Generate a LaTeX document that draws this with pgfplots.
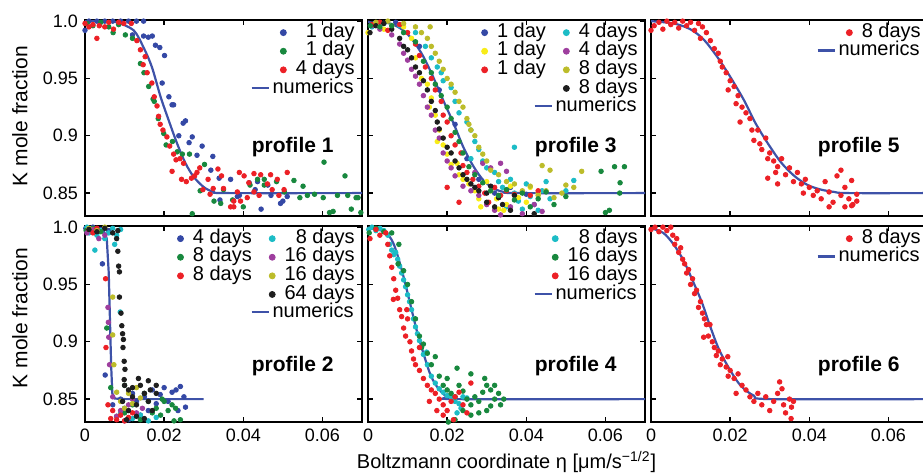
\documentclass[border=0pt]{standalone}
\usepackage{fontspec}
\setmainfont{Liberation Sans}
\usepackage{pgfplots}
\pgfplotsset{compat=1.18}
\usepgfplotslibrary{groupplots}
\usetikzlibrary{calc}

\definecolor{mblue}{RGB}{52,72,165}
\definecolor{mgreen}{RGB}{24,136,62}
\definecolor{mred}{RGB}{236,32,38}
\definecolor{mcyan}{RGB}{28,188,198}
\definecolor{mmag}{RGB}{158,62,158}
\definecolor{myel}{RGB}{248,236,24}
\definecolor{molive}{RGB}{188,188,42}
\definecolor{mblack}{RGB}{30,30,30}
\definecolor{numblue}{RGB}{62,82,168}

\newcommand{\numentry}{\llap{\textcolor{numblue}{\rule[2.2pt]{8.5pt}{1.1pt}}\hspace{2pt}numerics}}

\pgfplotsset{
  panel/.style={
    scale only axis, width=138.5pt, height=98pt,
    xmin=0, xmax=0.07, ymin=0.83, ymax=1.001,
    xtick={0,0.02,0.04,0.06}, ytick={0.85,0.9,0.95,1.0},
    xticklabels={}, yticklabels={},
    scaled x ticks=false, scaled y ticks=false,
    tick label style={font=\fontsize{9}{10}\selectfont},
    axis line style={line width=0.9pt},
    major tick style={line width=0.7pt, black},
    major tick length=2.5pt,
    legend cell align=right,
    legend style={draw=none, fill=none, inner sep=0pt,
      at={(axis description cs:0.975,0.985)}, anchor=north east,
      font=\fontsize{10}{11}\selectfont,
      nodes={inner sep=0pt, text height=7pt, text depth=2.3pt},
      row sep=0pt, column sep=4.5pt,
      /tikz/every even column/.append style={column sep=8.5pt}},
  },
  xlab/.style={xticklabels={0,0.02,0.04,0.06}},
  ylab/.style={yticklabels={0.85,0.9,0.95,1.0},
    ylabel={K mole fraction},
    ylabel style={at={(axis description cs:-0.2347,#1)}, anchor=center,
      font=\fontsize{10.5}{12}\selectfont}},
  dots/.style={only marks, mark=*, mark size=1.15pt, color=#1,
    mark options={draw=none, fill=#1},
    legend image code/.code={\fill[#1] (1.5pt,0pt) circle (1.5pt);}},
  num/.style={no marks, numblue, line width=1.1pt, forget plot},
}

\newcommand{\proflabel}[2]{\node[font=\fontsize{10.5}{12}\selectfont\bfseries] at (rel axis cs:0.75,#1) {#2};}

\begin{document}
\begin{tikzpicture}
\begin{groupplot}[
  group style={group size=3 by 2, horizontal sep=3pt, vertical sep=5pt},
  panel,
]

% ---------- profile 1 ----------
\nextgroupplot[ylab=0.51]
\coordinate (TL) at (rel axis cs:0,1);
\addplot[dots=mblue] coordinates {
(0,0.992)(0.001,1.0)(0.003,1.0)(0.005,1.0)(0.007,1.0)(0.009,1.0)(0.011,1.0)(0.013,1.0)(0.0148,1.0)
(0.012,0.988)(0.0148,0.987)(0.016,0.986)(0.017,0.987)(0.0178,0.979)(0.0189,0.977)(0.0201,0.970)
(0.0195,0.946)(0.0212,0.934)(0.022,0.927)(0.0224,0.927)(0.0254,0.913)(0.0248,0.911)(0.0237,0.900)
(0.0271,0.899)(0.0263,0.894)(0.0296,0.891)(0.0283,0.883)(0.0323,0.882)(0.0318,0.870)(0.0339,0.863)
(0.0368,0.862)(0.0341,0.844)(0.0385,0.847)(0.0415,0.859)(0.0436,0.860)(0.0445,0.836)(0.0462,0.857)
(0.0494,0.841)(0.0500,0.843)(0.0511,0.847)(0.0470,0.848)(0.0430,0.853)(0.0390,0.848)};
\addlegendentry{1 day}
\addplot[dots=mgreen] coordinates {
(0.0005,0.998)(0.002,0.996)(0.004,0.999)(0.006,0.995)(0.0071,0.990)(0.0085,0.997)(0.0102,0.988)
(0.012,0.985)(0.014,0.963)(0.0149,0.955)(0.0161,0.943)(0.0172,0.932)(0.0175,0.930)(0.0185,0.915)
(0.0199,0.902)(0.0205,0.892)(0.0221,0.895)(0.0233,0.886)(0.0246,0.884)(0.0264,0.884)(0.0271,0.832)
(0.0291,0.852)(0.0302,0.875)(0.0326,0.843)(0.0343,0.841)(0.0350,0.853)(0.0373,0.844)(0.0400,0.838)
(0.0417,0.857)(0.0436,0.862)(0.0453,0.862)(0.0453,0.857)(0.0484,0.860)(0.0504,0.851)(0.0528,0.861)
(0.0551,0.856)(0.0543,0.846)(0.0562,0.848)(0.0580,0.849)(0.0604,0.877)(0.0602,0.846)(0.0618,0.833)
(0.0627,0.834)(0.0638,0.848)(0.0657,0.865)(0.0664,0.848)(0.0673,0.836)(0.0685,0.846)(0.0690,0.846)
(0.0697,0.833)};
\addlegendentry{1 day}
\addplot[dots=mred] coordinates {
(0,0.998)(0.001,0.995)(0.002,0.997)(0.003,0.985)(0.0036,0.996)(0.005,0.995)(0.006,0.999)(0.0072,0.993)
(0.0085,0.999)(0.0098,0.998)(0.0117,0.998)(0.0131,0.983)(0.014,0.975)(0.0147,0.962)(0.0152,0.969)
(0.0157,0.955)(0.0169,0.946)(0.0175,0.934)(0.0182,0.926)(0.0186,0.917)(0.0190,0.910)(0.0197,0.905)
(0.0207,0.899)(0.0214,0.891)(0.0224,0.884)(0.0230,0.879)(0.0220,0.869)(0.0240,0.880)(0.0249,0.876)
(0.0244,0.862)(0.0256,0.860)(0.0269,0.863)(0.0277,0.865)(0.0283,0.868)(0.0290,0.872)(0.0298,0.853)
(0.0311,0.862)(0.0316,0.849)(0.0324,0.854)(0.0336,0.871)(0.0345,0.865)(0.0350,0.854)(0.0368,0.838)
(0.0376,0.843)(0.0385,0.851)(0.0390,0.868)(0.0402,0.865)(0.0414,0.859)(0.0427,0.867)(0.0444,0.866)
(0.0461,0.858)(0.0469,0.866)(0.0486,0.862)(0.0503,0.853)(0.0511,0.868)(0.0490,0.848)(0.0473,0.853)
(0.0440,0.848)(0.0427,0.851)(0.0410,0.846)(0.0376,0.838)(0.0393,0.843)};
\addlegendentry{4 days}
\addlegendimage{empty legend}
\addlegendentry{\numentry}
\addplot[num, smooth] coordinates {
(0,1.0)(0.0050,1.0)(0.0080,0.999)(0.0123,0.992)(0.0148,0.977)(0.0169,0.960)(0.0191,0.934)
(0.0212,0.913)(0.0233,0.893)(0.0254,0.876)(0.0275,0.864)(0.0301,0.855)(0.0326,0.851)(0.036,0.850)(0.07,0.850)};
\proflabel{0.354}{profile 1}

% ---------- profile 3 ----------
\nextgroupplot[legend columns=2]
\addplot[dots=mblue] coordinates {
(0.001,0.997)(0.007,0.999)(0.013,0.978)(0.018,0.940)(0.022,0.910)(0.025,0.880)(0.028,0.862)
(0.032,0.850)(0.036,0.855)(0.040,0.849)};
\addlegendentry{1 day}
\addplot[dots=mcyan] coordinates {
(0.001,0.995)(0.004,0.998)(0.008,0.996)(0.012,0.990)(0.0145,0.978)(0.016,0.968)(0.0175,0.960)
(0.0185,0.955)(0.019,0.948)(0.021,0.942)(0.022,0.930)(0.023,0.920)(0.025,0.912)(0.026,0.905)
(0.027,0.895)(0.028,0.888)(0.029,0.878)(0.030,0.872)(0.032,0.868)(0.033,0.860)(0.034,0.855)
(0.036,0.862)(0.037,0.850)(0.038,0.843)(0.040,0.858)(0.041,0.847)(0.042,0.840)(0.044,0.852)
(0.045,0.860)(0.046,0.845)(0.043,0.835)(0.039,0.836)(0.035,0.838)(0.026,0.880)(0.037,0.890)
(0.052,0.861)(0.050,0.852)};
\addlegendentry{4 days}
\addplot[dots=myel] coordinates {
(0,0.990)(0.002,0.998)(0.004,0.993)(0.006,0.996)(0.009,0.995)(0.011,0.985)(0.012,0.968)(0.0135,0.950)
(0.015,0.945)(0.016,0.933)(0.0155,0.925)(0.017,0.918)(0.018,0.905)(0.0175,0.895)(0.019,0.892)
(0.020,0.884)(0.021,0.875)(0.0225,0.876)(0.023,0.866)(0.024,0.862)(0.0255,0.858)(0.027,0.852)
(0.028,0.845)(0.0285,0.838)(0.030,0.860)(0.031,0.852)(0.0325,0.845)(0.033,0.836)(0.035,0.840)
(0.036,0.856)(0.038,0.846)(0.040,0.842)(0.041,0.855)(0.043,0.850)(0.0343,0.835)};
\addlegendentry{1 day}
\addplot[dots=mmag] coordinates {
(0.001,0.996)(0.003,0.993)(0.006,0.988)(0.008,0.980)(0.009,0.972)(0.010,0.966)(0.011,0.958)
(0.012,0.952)(0.013,0.945)(0.014,0.935)(0.015,0.925)(0.016,0.918)(0.017,0.905)(0.018,0.898)
(0.019,0.885)(0.020,0.878)(0.021,0.872)(0.022,0.865)(0.024,0.856)(0.026,0.852)(0.028,0.848)
(0.030,0.840)(0.032,0.835)(0.0335,0.831)(0.036,0.838)(0.039,0.832)(0.042,0.840)(0.044,0.834)
(0.027,0.868)(0.029,0.876)(0.031,0.872)(0.0335,0.876)(0.035,0.869)};
\addlegendentry{4 days}
\addplot[dots=mred] coordinates {
(0.001,0.997)(0.003,0.999)(0.005,0.992)(0.008,0.997)(0.010,0.990)(0.012,0.980)(0.013,0.970)
(0.0145,0.960)(0.016,0.950)(0.017,0.940)(0.0185,0.930)(0.019,0.918)(0.020,0.912)(0.021,0.900)
(0.022,0.892)(0.0235,0.885)(0.024,0.874)(0.025,0.868)(0.0265,0.862)(0.028,0.856)(0.0295,0.850)
(0.0305,0.842)(0.032,0.855)(0.0335,0.848)(0.035,0.852)(0.037,0.849)(0.039,0.851)(0.041,0.848)
(0.043,0.852)(0.020,0.855)(0.023,0.842)};
\addlegendentry{1 day}
\addplot[dots=molive] coordinates {
(0.002,0.999)(0.005,1.0)(0.009,0.998)(0.012,0.995)(0.0135,0.990)(0.015,0.985)(0.016,0.978)
(0.017,0.972)(0.018,0.965)(0.019,0.958)(0.020,0.950)(0.021,0.945)(0.022,0.938)(0.023,0.930)
(0.024,0.925)(0.025,0.915)(0.0255,0.910)(0.026,0.905)(0.027,0.900)(0.028,0.890)(0.029,0.884)
(0.030,0.878)(0.031,0.870)(0.033,0.866)(0.035,0.860)(0.037,0.858)(0.039,0.852)(0.041,0.856)
(0.043,0.848)(0.045,0.852)(0.047,0.846)(0.049,0.850)(0.050,0.857)(0.044,0.874)(0.046,0.870)
(0.054,0.869)(0.052,0.855)(0.0157,0.995)};
\addlegendentry{8 days}
\addlegendimage{empty legend}
\addlegendentry{}
\addplot[dots=mblack] coordinates {
(0.0005,0.990)(0.002,0.996)(0.004,0.998)(0.006,0.993)(0.008,0.985)(0.009,0.978)(0.010,0.975)
(0.011,0.968)(0.012,0.960)(0.013,0.955)(0.014,0.948)(0.015,0.940)(0.016,0.930)(0.017,0.922)
(0.0175,0.912)(0.018,0.906)(0.019,0.898)(0.020,0.890)(0.021,0.885)(0.022,0.878)(0.023,0.872)
(0.024,0.866)(0.025,0.862)(0.026,0.858)(0.027,0.855)(0.028,0.852)(0.030,0.850)(0.031,0.856)
(0.033,0.846)(0.034,0.840)(0.036,0.835)(0.037,0.848)(0.030,0.842)(0.032,0.838)(0.042,0.832)};
\addlegendentry{8 days}
\addlegendimage{empty legend}
\addlegendentry{}
\addlegendimage{empty legend}
\addlegendentry{\numentry}
\addplot[dots=mgreen, forget plot] coordinates {
(0.0006,0.996)(0.003,0.995)(0.006,0.996)(0.009,0.990)(0.012,0.982)(0.014,0.965)(0.016,0.955)
(0.017,0.945)(0.0185,0.935)(0.020,0.925)(0.021,0.915)(0.022,0.903)(0.023,0.895)(0.024,0.885)
(0.0255,0.873)(0.027,0.866)(0.029,0.859)(0.031,0.852)(0.033,0.848)(0.035,0.853)(0.037,0.844)
(0.039,0.850)(0.041,0.838)(0.043,0.845)(0.045,0.851)(0.047,0.840)(0.050,0.847)(0.0589,0.869)
(0.0623,0.873)(0.0648,0.873)(0.0637,0.859)(0.0600,0.833)(0.0610,0.835)(0.0636,0.850)};
\addplot[num, smooth] coordinates {
(0,1.0)(0.0004,0.999)(0.0055,0.998)(0.0089,0.992)(0.0114,0.983)(0.014,0.969)(0.0165,0.951)
(0.019,0.931)(0.0216,0.911)(0.0241,0.890)(0.0267,0.873)(0.0292,0.861)(0.0318,0.854)(0.0343,0.851)
(0.0377,0.850)(0.07,0.850)};
\proflabel{0.354}{profile 3}

% ---------- profile 5 ----------
\nextgroupplot[]
\addplot[dots=mred] coordinates {
(0,0.992)(0.0008,0.996)(0.002,0.999)(0.003,0.993)(0.004,1.0)(0.005,0.997)(0.006,0.999)(0.007,0.994)
(0.008,1.0)(0.009,0.996)(0.010,0.999)(0.011,0.992)(0.012,0.998)(0.013,0.995)(0.014,0.990)
(0.0125,0.985)(0.015,0.983)(0.016,0.976)(0.017,0.972)(0.0175,0.965)(0.018,0.960)(0.019,0.955)
(0.020,0.948)(0.0195,0.940)(0.021,0.943)(0.022,0.935)(0.0215,0.928)(0.023,0.925)(0.024,0.920)
(0.0225,0.912)(0.025,0.915)(0.0255,0.905)(0.026,0.896)(0.027,0.905)(0.0275,0.893)(0.028,0.888)
(0.029,0.898)(0.0295,0.880)(0.030,0.885)(0.031,0.878)(0.0315,0.868)(0.032,0.873)(0.033,0.880)
(0.034,0.866)(0.035,0.872)(0.036,0.860)(0.037,0.868)(0.038,0.858)(0.0385,0.850)(0.039,0.862)
(0.040,0.855)(0.041,0.848)(0.042,0.852)(0.043,0.845)(0.044,0.860)(0.045,0.851)(0.046,0.842)
(0.047,0.865)(0.048,0.870)(0.048,0.848)(0.049,0.855)(0.050,0.845)(0.051,0.840)(0.052,0.849)
(0.049,0.838)(0.045,0.838)(0.0295,0.863)(0.032,0.858)(0.0507,0.861)(0.052,0.843)(0.0507,0.839)};
\addlegendentry{8 days}
\addlegendimage{empty legend}
\addlegendentry{\numentry}
\addplot[num, smooth] coordinates {
(0,1.0)(0.0057,0.998)(0.0099,0.993)(0.0133,0.984)(0.0167,0.969)(0.0201,0.951)(0.0235,0.931)
(0.0264,0.911)(0.0294,0.894)(0.0328,0.877)(0.0362,0.865)(0.0396,0.857)(0.043,0.853)(0.0463,0.851)
(0.0497,0.850)(0.07,0.850)};
\proflabel{0.354}{profile 5}

% ---------- profile 2 ----------
\nextgroupplot[ylab=0.53, xlab, legend columns=2]
\addplot[dots=mblue] coordinates {
(0.0002,0.999)(0.002,1.0)(0.004,0.998)(0.006,0.997)(0.0044,0.968)(0.0051,0.871)(0.007,0.845)
(0.009,0.850)(0.010,0.842)(0.012,0.855)(0.013,0.848)(0.015,0.852)(0.016,0.840)(0.017,0.858)
(0.018,0.846)(0.019,0.854)(0.020,0.860)(0.021,0.848)(0.022,0.856)(0.023,0.858)(0.0241,0.861)
(0.025,0.852)(0.0254,0.843)(0.0235,0.840)(0.014,0.836)(0.011,0.832)};
\addlegendentry{4 days}
\addplot[dots=mcyan] coordinates {
(0.0005,1.0)(0.001,0.995)(0.002,0.998)(0.0025,0.980)(0.003,0.993)(0.004,0.997)(0.005,0.990)
(0.006,0.995)(0.007,0.999)(0.0075,0.985)(0.008,0.993)(0.009,0.998)(0.0089,0.926)(0.009,0.838)
(0.012,0.833)(0.014,0.836)(0.016,0.831)(0.018,0.834)};
\addlegendentry{8 days}
\addplot[dots=mgreen] coordinates {
(0.0003,0.997)(0.002,0.999)(0.004,0.996)(0.0055,0.912)(0.0065,0.860)(0.008,0.835)(0.010,0.838)
(0.012,0.845)(0.014,0.832)(0.016,0.848)(0.017,0.838)(0.018,0.842)(0.0191,0.836)(0.020,0.848)
(0.021,0.840)(0.022,0.845)(0.0229,0.842)(0.0241,0.832)(0.0225,0.831)(0.015,0.855)(0.0195,0.850)
(0.010,0.862)};
\addlegendentry{8 days}
\addplot[dots=mmag] coordinates {
(0.0005,0.995)(0.002,0.998)(0.0035,0.990)(0.005,0.993)(0.0058,0.930)(0.0059,0.917)(0.006,0.904)
(0.0062,0.880)(0.007,0.852)(0.008,0.835)(0.009,0.840)(0.010,0.831)(0.011,0.845)(0.012,0.850)
(0.013,0.838)(0.0145,0.842)};
\addlegendentry{16 days}
\addplot[dots=mred] coordinates {
(0.001,0.998)(0.002,0.995)(0.003,0.999)(0.0052,0.955)(0.0053,0.895)(0.0058,0.845)(0.007,0.840)
(0.008,0.832)(0.009,0.836)(0.010,0.831)(0.011,0.834)(0.012,0.838)(0.0065,0.833)};
\addlegendentry{8 days}
\addplot[dots=molive] coordinates {
(0.001,0.999)(0.003,0.997)(0.005,1.0)(0.007,0.939)(0.007,0.906)(0.0073,0.880)(0.008,0.856)
(0.009,0.848)(0.010,0.842)(0.011,0.855)(0.012,0.846)(0.013,0.860)(0.014,0.851)};
\addlegendentry{16 days}
\addlegendimage{empty legend}
\addlegendentry{}
\addplot[dots=mblack] coordinates {
(0.001,0.998)(0.003,0.996)(0.005,0.999)(0.007,0.995)(0.0083,0.997)(0.008,0.990)(0.0083,0.979)
(0.0085,0.966)(0.0087,0.961)(0.0087,0.939)(0.0091,0.925)(0.0093,0.914)(0.0095,0.907)(0.0097,0.902)
(0.0096,0.895)(0.0099,0.883)(0.0101,0.876)(0.0099,0.867)(0.010,0.862)(0.011,0.858)(0.012,0.852)
(0.013,0.845)(0.014,0.862)(0.015,0.855)(0.016,0.848)(0.017,0.840)(0.018,0.855)(0.013,0.835)
(0.011,0.840)(0.0095,0.848)(0.015,0.833)(0.012,0.860)(0.0165,0.858)(0.0105,0.832)(0.0135,0.868)
(0.016,0.866)(0.018,0.862)};
\addlegendentry{64 days}
\addlegendimage{empty legend}
\addlegendentry{}
\addlegendimage{empty legend}
\addlegendentry{\numentry}
\addplot[num] coordinates {
(0,1.0)(0.0045,0.999)(0.0055,0.99)(0.006,0.96)(0.0063,0.92)(0.0066,0.88)(0.0069,0.855)
(0.0075,0.8505)(0.01,0.850)(0.03,0.850)};
\proflabel{0.285}{profile 2}

% ---------- profile 4 ----------
\nextgroupplot[xlab, xlabel={Boltzmann coordinate η [μm/s\textsuperscript{−1/2}]},
  xlabel style={at={(axis description cs:0.5,-0.2056)}, anchor=center,
    font=\fontsize{10}{11}\selectfont}]
\addplot[dots=mcyan] coordinates {
(0.0002,0.998)(0.001,1.0)(0.002,0.997)(0.003,0.999)(0.004,0.997)(0.005,0.993)(0.0055,0.985)
(0.006,0.980)(0.0065,0.976)(0.007,0.978)(0.0075,0.972)(0.008,0.966)(0.0085,0.960)(0.009,0.954)
(0.0095,0.948)(0.010,0.941)(0.0105,0.935)(0.011,0.928)(0.0115,0.920)(0.012,0.913)(0.0125,0.907)
(0.013,0.901)(0.0135,0.895)(0.014,0.889)(0.0148,0.891)(0.015,0.880)(0.016,0.870)(0.017,0.864)
(0.018,0.859)(0.019,0.856)(0.020,0.853)(0.021,0.852)(0.022,0.848)(0.023,0.846)(0.024,0.852)
(0.0235,0.842)(0.0225,0.838)(0.025,0.851)};
\addlegendentry{8 days}
\addplot[dots=mgreen] coordinates {
(0.0003,0.995)(0.002,0.999)(0.004,0.996)(0.006,0.995)(0.0078,0.985)(0.0076,0.968)(0.009,0.962)
(0.010,0.950)(0.011,0.935)(0.012,0.920)(0.013,0.905)(0.0135,0.895)(0.014,0.898)(0.015,0.890)
(0.016,0.880)(0.017,0.887)(0.018,0.870)(0.019,0.862)(0.020,0.858)(0.021,0.855)(0.022,0.852)
(0.0225,0.877)(0.023,0.862)(0.024,0.857)(0.025,0.850)(0.026,0.872)(0.026,0.845)(0.027,0.852)
(0.028,0.848)(0.029,0.856)(0.0295,0.868)(0.030,0.862)(0.031,0.858)(0.032,0.862)(0.032,0.850)
(0.033,0.855)(0.0343,0.850)(0.0335,0.845)(0.030,0.840)(0.028,0.838)(0.026,0.836)(0.024,0.840)
(0.022,0.832)(0.031,0.844)(0.020,0.868)(0.0203,0.830)};
\addlegendentry{16 days}
\addplot[dots=mred] coordinates {
(0.0005,0.990)(0.002,0.998)(0.003,0.993)(0.0045,0.995)(0.005,0.985)(0.0055,0.975)(0.006,0.965)
(0.0064,0.937)(0.0065,0.955)(0.007,0.945)(0.0075,0.938)(0.008,0.928)(0.0098,0.928)(0.0085,0.922)
(0.009,0.912)(0.0095,0.905)(0.0106,0.900)(0.011,0.892)(0.0115,0.885)(0.012,0.880)(0.013,0.875)
(0.014,0.868)(0.015,0.862)(0.016,0.858)(0.017,0.855)(0.018,0.850)(0.019,0.845)(0.020,0.840)
(0.021,0.848)(0.022,0.852)(0.023,0.856)(0.024,0.845)(0.025,0.838)(0.0155,0.848)(0.0174,0.840)
(0.019,0.836)(0.0216,0.832)(0.013,0.895)(0.010,0.920)(0.026,0.864)};
\addlegendentry{16 days}
\addlegendimage{empty legend}
\addlegendentry{\numentry}
\addplot[num, smooth] coordinates {
(0,1.0)(0.0004,0.999)(0.0042,0.996)(0.0064,0.986)(0.0085,0.963)(0.0106,0.934)(0.0123,0.910)
(0.014,0.890)(0.0157,0.872)(0.0174,0.861)(0.0199,0.852)(0.0225,0.850)(0.07,0.850)};
\proflabel{0.285}{profile 4}

% ---------- profile 6 ----------
\nextgroupplot[xlab]
\coordinate (BR) at (rel axis cs:1,0);
\addplot[dots=mred] coordinates {
(0,0.998)(0.001,1.0)(0.002,0.996)(0.003,1.0)(0.004,0.997)(0.005,1.0)(0.0055,0.993)(0.006,0.985)
(0.0065,0.990)(0.007,0.978)(0.0075,0.982)(0.008,0.972)(0.0085,0.968)(0.009,0.960)(0.0095,0.963)
(0.010,0.950)(0.0105,0.955)(0.011,0.942)(0.0115,0.945)(0.012,0.930)(0.0125,0.935)(0.013,0.925)
(0.0133,0.904)(0.0135,0.920)(0.014,0.915)(0.0145,0.905)(0.0149,0.915)(0.0155,0.900)(0.016,0.895)
(0.0165,0.888)(0.017,0.892)(0.0175,0.880)(0.018,0.885)(0.0194,0.887)(0.019,0.878)(0.0195,0.870)
(0.020,0.875)(0.021,0.868)(0.022,0.872)(0.0215,0.855)(0.023,0.862)(0.024,0.858)(0.025,0.852)
(0.026,0.848)(0.027,0.855)(0.028,0.845)(0.029,0.852)(0.030,0.840)(0.031,0.848)(0.032,0.855)
(0.0331,0.859)(0.0325,0.865)(0.0335,0.845)(0.034,0.838)(0.035,0.850)(0.0355,0.843)(0.036,0.848)
(0.0354,0.833)};
\addlegendentry{8 days}
\addlegendimage{empty legend}
\addlegendentry{\numentry}
\addplot[num, smooth] coordinates {
(0,0.999)(0.0031,0.995)(0.0057,0.985)(0.0082,0.971)(0.0107,0.952)(0.0129,0.934)(0.015,0.913)
(0.0171,0.894)(0.0197,0.877)(0.0226,0.862)(0.026,0.853)(0.0302,0.850)(0.07,0.850)};
\proflabel{0.285}{profile 6}

\end{groupplot}
\pgfresetboundingbox
\path[use as bounding box] ($(TL)+(-42.5pt,10pt)$) rectangle ($(BR)+(-2.5pt,-25pt)$);
\end{tikzpicture}
\end{document}
